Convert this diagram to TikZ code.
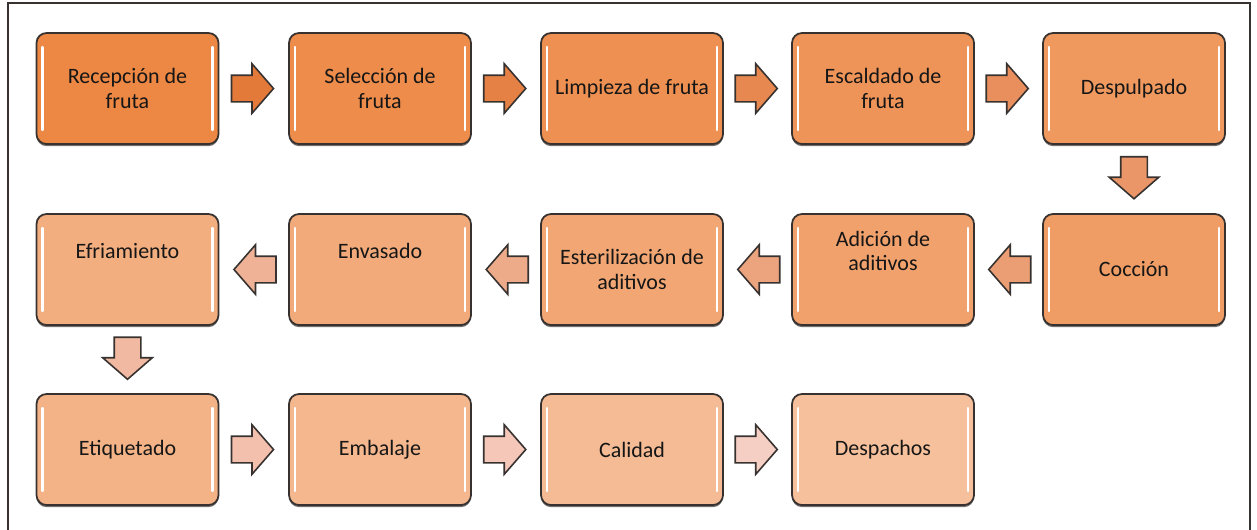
\documentclass[tikz,border=0pt]{standalone}
\usepackage{fontspec}
\setmainfont{Carlito}
\usetikzlibrary{shapes.arrows, calc, shadows}

\definecolor{boxlo}{RGB}{237,135,68}
\definecolor{boxhi}{RGB}{245,192,155}
\definecolor{arrlo}{RGB}{228,122,58}
\definecolor{arrhi}{RGB}{245,206,196}
\definecolor{edge}{RGB}{55,50,48}
\definecolor{ink}{RGB}{22,22,22}

\begin{document}
\begin{tikzpicture}[
		stepbox/.style={rectangle, rounded corners=0.2cm, draw=edge, line width=1pt,
			fill=boxhi!#1!boxlo, minimum width=3.64cm, minimum height=2.22cm,
			text=ink, align=center, font=\fontsize{12.5}{13.8}\selectfont,
			drop shadow={shadow xshift=0pt, shadow yshift=-1.2pt, opacity=0.7, fill=edge},
			path picture={
				\draw[white, line width=1.3pt, line cap=round]
					([xshift=0.12cm, yshift=-0.28cm]path picture bounding box.north west) --
					([xshift=0.12cm, yshift=0.28cm]path picture bounding box.south west);
				\draw[white, line width=1.3pt, line cap=round]
					([xshift=-0.12cm, yshift=-0.28cm]path picture bounding box.north east) --
					([xshift=-0.12cm, yshift=0.28cm]path picture bounding box.south east);
			}},
		raised/.style={text depth=0.76cm},
		flowarr/.style={single arrow, draw=edge, line width=0.9pt, fill=arrhi!#1!arrlo,
			minimum height=0.84cm,
			single arrow head extend=0.23cm, single arrow tip angle=98},
		rarr/.style={flowarr=#1, inner xsep=0pt, inner ysep=0.25cm, xshift=-0.14cm},
		larr/.style={flowarr=#1, inner xsep=0pt, inner ysep=0.25cm, xshift=0.14cm,
			shape border rotate=180},
		darr/.style={flowarr=#1, inner xsep=0.25cm, inner ysep=0pt, yshift=0.14cm,
			shape border rotate=270}]

		\useasboundingbox (0,0) rectangle (25.14,-10.58);
		% marco
		\draw[edge, line width=0.8pt] (0.16,-0.06) rectangle (25.0,-11.0);

		% fila 1
		\node[stepbox=0] (recep) at (2.55,-1.77) {Recepción de\\fruta};
		\node[stepbox=8] (selec) at (7.60,-1.77) {Selección de\\fruta};
		\node[stepbox=15] (limp) at (12.64,-1.77) {Limpieza de fruta};
		\node[stepbox=23] (escal) at (17.66,-1.77) {Escaldado de\\fruta};
		\node[stepbox=31] (despul) at (22.68,-1.77) {Despulpado};

		% fila 2
		\node[stepbox=38] (cocc) at (22.68,-5.39) {Cocción};
		\node[stepbox=46, raised] (adic) at (17.66,-5.39) {Adición de\\aditivos};
		\node[stepbox=54] (ester) at (12.64,-5.39) {Esterilización de\\aditivos};
		\node[stepbox=62, raised] (envas) at (7.60,-5.39) {Envasado};
		\node[stepbox=69, raised] (enfr) at (2.55,-5.39) {Efriamiento};

		% fila 3
		\node[stepbox=77] (etiq) at (2.55,-8.99) {Etiquetado};
		\node[stepbox=85] (embal) at (7.60,-8.99) {Embalaje};
		\node[stepbox=92] (calid) at (12.64,-8.99) {Calidad};
		\node[stepbox=100] (despa) at (17.66,-8.99) {Despachos};

		% flechas
		\node[rarr=0] (f1) at ($(recep.east)!0.5!(selec.west)$) {};
		\node[rarr=8] (f2) at ($(selec.east)!0.5!(limp.west)$) {};
		\node[rarr=17] (f3) at ($(limp.east)!0.5!(escal.west)$) {};
		\node[rarr=25] (f4) at ($(escal.east)!0.5!(despul.west)$) {};
		\node[darr=33] (f5) at ($(despul.south)!0.5!(cocc.north)$) {};
		\node[larr=42] (f6) at ($(cocc.west)!0.5!(adic.east)$) {};
		\node[larr=50] (f7) at ($(adic.west)!0.5!(ester.east)$) {};
		\node[larr=58] (f8) at ($(ester.west)!0.5!(envas.east)$) {};
		\node[larr=67] (f9) at ($(envas.west)!0.5!(enfr.east)$) {};
		\node[darr=75] (f10) at ($(enfr.south)!0.5!(etiq.north)$) {};
		\node[rarr=83] (f11) at ($(etiq.east)!0.5!(embal.west)$) {};
		\node[rarr=92] (f12) at ($(embal.east)!0.5!(calid.west)$) {};
		\node[rarr=100] (f13) at ($(calid.east)!0.5!(despa.west)$) {};

	\end{tikzpicture}
\end{document}
